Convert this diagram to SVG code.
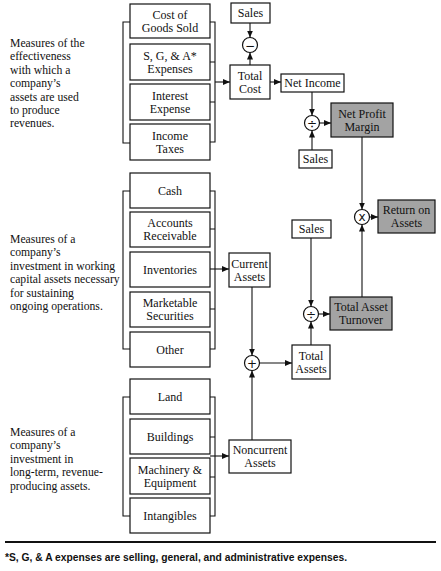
<svg xmlns="http://www.w3.org/2000/svg" width="441" height="571" viewBox="0 0 441 571">
<defs>
<style>
.b{fill:#fff;stroke:#111;stroke-width:1.2}
.g{fill:#a3a3a3;stroke:#111;stroke-width:1.2}
.t{font-family:"Liberation Serif","Times New Roman",serif;font-size:12px;fill:#111;text-anchor:middle}
.d{font-family:"Liberation Serif","Times New Roman",serif;font-size:11.7px;fill:#111}
.c{fill:#fff;stroke:#111;stroke-width:1.2}
.s{font-family:"DejaVu Sans","Liberation Sans",sans-serif;font-size:12px;fill:#111;text-anchor:middle}
.l{fill:none;stroke:#111;stroke-width:1.1}
.a{fill:none;stroke:#111;stroke-width:1.1;marker-end:url(#ar)}
</style>
<marker id="ar" markerUnits="userSpaceOnUse" markerWidth="7" markerHeight="6" refX="7" refY="3" orient="auto">
<path d="M0,0 L7,3 L0,6 z" fill="#111"/>
</marker>
</defs>
<rect width="441" height="571" fill="#fff"/>

<g id="desc">
<text class="d" x="10" y="47">Measures of the</text>
<text class="d" x="10" y="60.4">effectiveness</text>
<text class="d" x="10" y="73.8">with which a</text>
<text class="d" x="10" y="87.2">company’s</text>
<text class="d" x="10" y="100.6">assets are used</text>
<text class="d" x="10" y="114">to produce</text>
<text class="d" x="10" y="127.4">revenues.</text>

<text class="d" x="10" y="243">Measures of a</text>
<text class="d" x="10" y="256.4">company’s</text>
<text class="d" x="10" y="269.8">investment in working</text>
<text class="d" x="10" y="283.2">capital assets necessary</text>
<text class="d" x="10" y="296.6">for sustaining</text>
<text class="d" x="10" y="310">ongoing operations.</text>

<text class="d" x="10" y="436">Measures of a</text>
<text class="d" x="10" y="449.4">company’s</text>
<text class="d" x="10" y="462.8">investment in</text>
<text class="d" x="10" y="476.2">long-term, revenue-</text>
<text class="d" x="10" y="489.6">producing assets.</text>
</g>

<g id="cogs"><rect class="b" x="130" y="4" width="80" height="34"/><text class="t" x="170" y="18.5">Cost of</text><text class="t" x="170" y="31.5">Goods Sold</text></g>
<g id="sga"><rect class="b" x="130" y="44" width="80" height="36"/><text class="t" x="170" y="59.5">S, G, &amp; A*</text><text class="t" x="170" y="72.5">Expenses</text></g>
<g id="interest"><rect class="b" x="130" y="84" width="80" height="36"/><text class="t" x="170" y="99.5">Interest</text><text class="t" x="170" y="112.5">Expense</text></g>
<g id="taxes"><rect class="b" x="130" y="124" width="80" height="36"/><text class="t" x="170" y="139.5">Income</text><text class="t" x="170" y="152.5">Taxes</text></g>

<g id="cash"><rect class="b" x="130" y="173" width="80" height="35"/><text class="t" x="170" y="194.5">Cash</text></g>
<g id="ar-box"><rect class="b" x="130" y="212" width="80" height="35"/><text class="t" x="170" y="227">Accounts</text><text class="t" x="170" y="240">Receivable</text></g>
<g id="inventories"><rect class="b" x="130" y="252" width="80" height="35"/><text class="t" x="170" y="273.5">Inventories</text></g>
<g id="securities"><rect class="b" x="130" y="292" width="80" height="35"/><text class="t" x="170" y="307">Marketable</text><text class="t" x="170" y="320">Securities</text></g>
<g id="other"><rect class="b" x="130" y="332" width="80" height="35"/><text class="t" x="170" y="353.5">Other</text></g>

<g id="land"><rect class="b" x="130" y="379" width="80" height="35"/><text class="t" x="170" y="400.5">Land</text></g>
<g id="buildings"><rect class="b" x="130" y="419" width="80" height="35"/><text class="t" x="170" y="440.5">Buildings</text></g>
<g id="machinery"><rect class="b" x="130" y="458" width="80" height="36"/><text class="t" x="170" y="473.5">Machinery &amp;</text><text class="t" x="170" y="486.5">Equipment</text></g>
<g id="intangibles"><rect class="b" x="130" y="498" width="80" height="35"/><text class="t" x="170" y="519.5">Intangibles</text></g>

<g id="sales1"><rect class="b" x="231" y="3" width="39" height="20"/><text class="t" x="250.5" y="17">Sales</text></g>
<g id="minus"><circle class="c" cx="250" cy="45" r="7.5"/><text class="s" x="250" y="49.5">−</text></g>
<g id="totalcost"><rect class="b" x="230" y="65" width="40" height="34"/><text class="t" x="250" y="79.5">Total</text><text class="t" x="250" y="92.5">Cost</text></g>
<g id="netincome"><rect class="b" x="281" y="74" width="63" height="18"/><text class="t" x="312.5" y="87">Net Income</text></g>
<g id="div1"><circle class="c" cx="312" cy="123" r="7.5"/><text class="s" x="312" y="127.5">÷</text></g>
<g id="sales2"><rect class="b" x="299" y="150" width="33" height="18"/><text class="t" x="315.5" y="163">Sales</text></g>
<g id="npm"><rect class="g" x="331" y="103" width="62" height="34"/><text class="t" x="362" y="117.5">Net Profit</text><text class="t" x="362" y="130.5">Margin</text></g>
<g id="times"><circle class="c" cx="362" cy="217" r="7.5"/><text class="s" x="362" y="221">x</text></g>
<g id="roa"><rect class="g" x="378" y="200" width="57" height="33"/><text class="t" x="406.5" y="214">Return on</text><text class="t" x="406.5" y="227">Assets</text></g>
<g id="sales3"><rect class="b" x="292" y="220" width="39" height="18"/><text class="t" x="311.5" y="233">Sales</text></g>
<g id="div2"><circle class="c" cx="311" cy="314" r="7.5"/><text class="s" x="311" y="318.5">÷</text></g>
<g id="tat"><rect class="g" x="330" y="297" width="62" height="33"/><text class="t" x="361" y="311">Total Asset</text><text class="t" x="361" y="324">Turnover</text></g>
<g id="currentassets"><rect class="b" x="229" y="253" width="41" height="34"/><text class="t" x="249.5" y="267.5">Current</text><text class="t" x="249.5" y="280.5">Assets</text></g>
<g id="plus"><circle class="c" cx="252" cy="363" r="7.5"/><text class="s" x="252" y="367.5">+</text></g>
<g id="totalassets"><rect class="b" x="292" y="345" width="38" height="34"/><text class="t" x="311" y="359.5">Total</text><text class="t" x="311" y="372.5">Assets</text></g>
<g id="noncurrent"><rect class="b" x="229" y="440" width="62" height="33"/><text class="t" x="260" y="454">Noncurrent</text><text class="t" x="260" y="467">Assets</text></g>

<g id="connectors">
<path class="l" d="M130,22 H123 V143 H130"/>
<path class="l" d="M210,22 H215 V142 H210 M210,62 H215 M210,102 H215"/>
<path class="a" d="M215,82 H230"/>
<path class="l" d="M130,191 H123 V349 H130"/>
<path class="l" d="M210,191 H215 V349 H210 M210,229 H215 M210,309 H215"/>
<path class="a" d="M210,269 H229"/>
<path class="l" d="M130,397 H123 V516 H130"/>
<path class="l" d="M210,397 H215 V516 H210 M210,437 H215 M210,477 H215"/>
<path class="a" d="M210,456 H229"/>
<path class="a" d="M250,23 V37.5"/>
<path class="a" d="M250,65 V52.5"/>
<path class="a" d="M270,82 H281"/>
<path class="a" d="M312,92 V115.5"/>
<path class="a" d="M312,150 V130.5"/>
<path class="a" d="M319.5,123 H331"/>
<path class="a" d="M362,137 V209.5"/>
<path class="a" d="M369.5,217 H378"/>
<path class="a" d="M362,297 V224.5"/>
<path class="a" d="M311,238 V306.5"/>
<path class="a" d="M311,345 V321.5"/>
<path class="a" d="M318.5,314 H330"/>
<path class="a" d="M252,287 V355.5"/>
<path class="a" d="M252,440 V370.5"/>
<path class="a" d="M259.5,363 H292"/>
</g>

<g id="footnote">
<line x1="5" y1="542" x2="436" y2="542" stroke="#111" stroke-width="2"/>
<text x="5" y="561" font-family="Liberation Sans, Arial, sans-serif" font-size="11px" font-weight="bold" fill="#111" textLength="342" lengthAdjust="spacingAndGlyphs">*S, G, &amp; A expenses are selling, general, and administrative expenses.</text>
</g>
</svg>
